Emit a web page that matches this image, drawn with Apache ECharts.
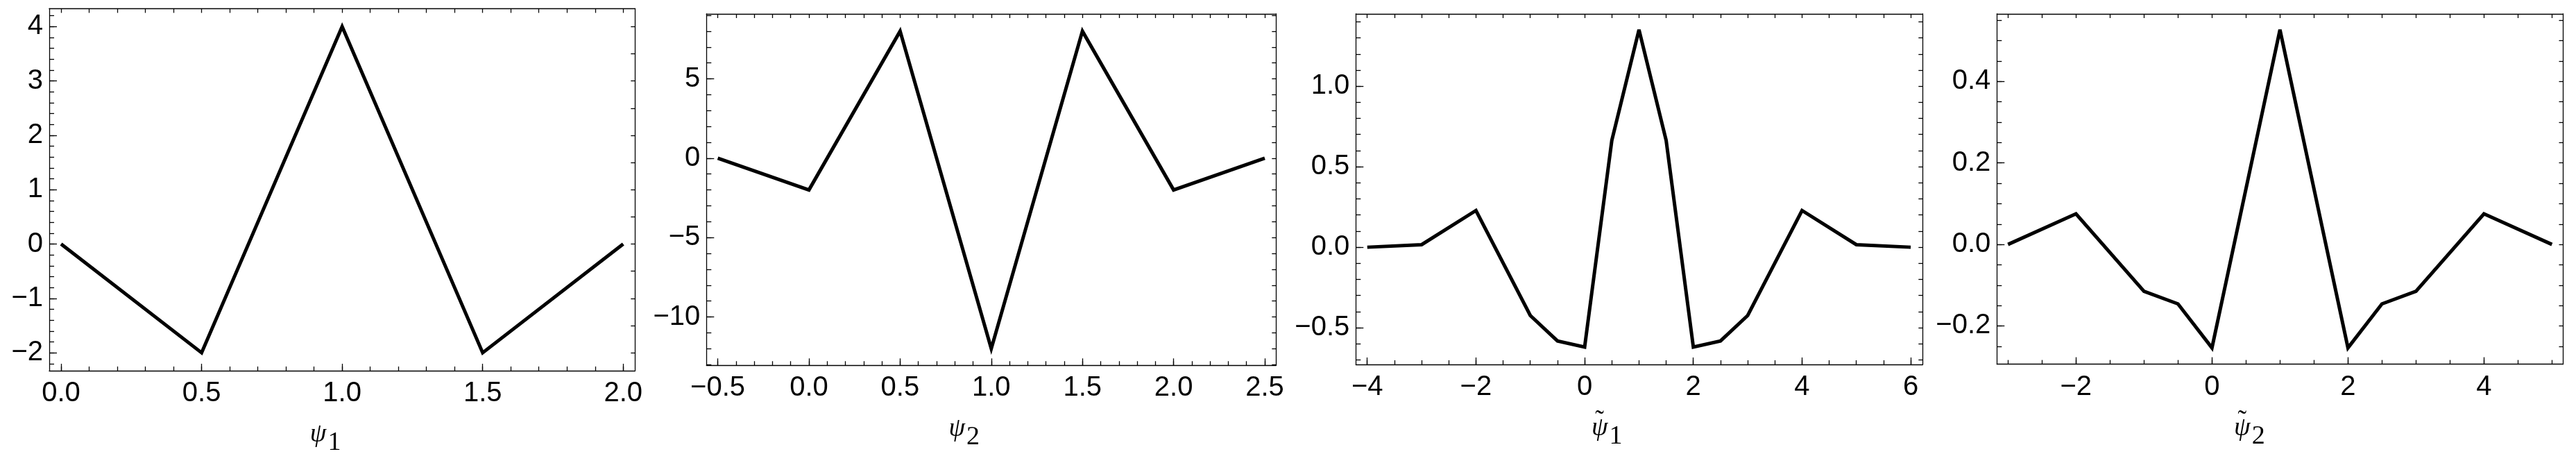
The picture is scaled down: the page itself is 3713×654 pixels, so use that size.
<!DOCTYPE html>
<html>
<head>
<meta charset="utf-8">
<script src="https://cdn.jsdelivr.net/npm/echarts@6/dist/echarts.min.js"></script>
<style>
html,body{margin:0;padding:0;background:#fff;}
#c{width:3713px;height:654px;}
</style>
</head>
<body>
<div id="c"></div>
<script>
// ---------- DATA ----------
// Panel 1: psi_1
const p1X = [0, 0.5, 1, 1.5, 2];
const p1Y = [0, -2, 4, -2, 0];
const p1XTicks = [0, 0.5, 1, 1.5, 2];
const p1YTicks = [-2, -1, 0, 1, 2, 3, 4];
// Panel 2: psi_2
const p2X = [-0.5, 0, 0.5, 1, 1.5, 2, 2.5];
const p2Y = [0, -2, 8, -12, 8, -2, 0];
const p2XTicks = [-0.5, 0, 0.5, 1, 1.5, 2, 2.5];
const p2YTicks = [-10, -5, 0, 5];
// Panel 3: psi~_1
const p3X = [-4, -3, -2, -1, -0.5, 0, 0.5, 1, 1.5, 2, 2.5, 3, 4, 5, 6];
const p3Y = [0, 0.016, 0.228, -0.424, -0.582, -0.62, 0.663, 1.35, 0.663, -0.62, -0.582, -0.424, 0.228, 0.016, 0];
const p3XTicks = [-4, -2, 0, 2, 4, 6];
const p3YTicks = [-0.5, 0, 0.5, 1.0];
// Panel 4: psi~_2
const p4X = [-3, -2, -1, -0.5, 0, 1, 2, 2.5, 3, 4, 5];
const p4Y = [0, 0.075, -0.115, -0.146, -0.254, 0.527, -0.254, -0.146, -0.115, 0.075, 0];
const p4XTicks = [-2, 0, 2, 4];
const p4YTicks = [-0.2, 0, 0.2, 0.4];
// axis titles: symbol, tilde accent, subscript
const titleSymbols = ['ψ', 'ψ', 'ψ', 'ψ'];
const titleAccents = ['', '', '\u02DC', '\u02DC'];
const titleSubs = ['1', '2', '1', '2'];

// ---------- LAYOUT / STYLE ----------
const panels = [
  {x:p1X, y:p1Y, xt:p1XTicks, yt:p1YTicks, grid:{left:71, top:12.5, width:844.3, height:521.5},
   xr:[-0.042, 2.042], yr:[-2.33, 4.33], xMinor:0.1, yMinor:0.2, topStep:0.1, rightStep:0.5, xDec:1, yDec:0, shift:48},
  {x:p2X, y:p2Y, xt:p2XTicks, yt:p2YTicks, grid:{left:1018.3, top:20, width:821, height:506.3},
   xr:[-0.562, 2.562], yr:[-13.05, 9.09], xMinor:0.1, yMinor:1, topStep:0.1, rightStep:1, xDec:1, yDec:0, shift:78},
  {x:p3X, y:p3Y, xt:p3XTicks, yt:p3YTicks, grid:{left:1954.3, top:20, width:817, height:505},
   xr:[-4.21, 6.22], yr:[-0.728, 1.449], xMinor:0.5, yMinor:0.1, topStep:0.5, rightStep:0.1, xDec:0, yDec:1, shift:94},
  {x:p4X, y:p4Y, xt:p4XTicks, yt:p4YTicks, grid:{left:2878.3, top:20, width:816.2, height:504.6},
   xr:[-3.163, 5.165], yr:[-0.294, 0.566], xMinor:0.5, yMinor:0.05, topStep:0.5, rightStep:0.05, xDec:0, yDec:1, shift:89}
];

function stepsIn(r, step) {
  const out = [];
  const start = Math.ceil(r[0] / step - 1e-9);
  const end = Math.floor(r[1] / step + 1e-9);
  for (let i = start; i <= end; i++) out.push(Math.round(i * step * 10000) / 10000);
  return out;
}
function fmt(dec) {
  return v => {
    const s = Math.abs(v).toFixed(dec);
    return (v < -1e-9 ? '\u2212' : '') + s;
  };
}

const LINE = {color:'#000', width:1.3};
const TICK = {color:'#000', width:1.3};
const labelFont = {fontSize:40, fontFamily:'Liberation Sans, Arial, sans-serif', color:'#000'};
const SERIF = 'Liberation Serif, Times New Roman, serif';

const grids = [], xAxes = [], yAxes = [], series = [];
panels.forEach((p, g) => {
  grids.push(Object.assign({outerBoundsMode:'none', containLabel:false}, p.grid));
  const xb = xAxes.length, yb = yAxes.length;
  const accent = titleAccents[g] ? '{t|\u2006' + titleAccents[g] + '}' : '';
  // bottom major with labels + axis title
  xAxes.push({
    gridIndex:g, type:'value', min:p.xr[0], max:p.xr[1], position:'bottom',
    axisLine:{show:true, onZero:false, lineStyle:LINE},
    axisTick:{show:true, inside:true, length:10, customValues:p.xt, lineStyle:TICK},
    axisLabel:Object.assign({show:true, customValues:p.xt, formatter:fmt(p.xDec), margin:13,
      showMinLabel:true, showMaxLabel:true, hideOverlap:false}, labelFont),
    splitLine:{show:false},
    name: accent + '{p|' + titleSymbols[g] + '}{s|' + titleSubs[g] + '}{w|}',
    nameLocation:'middle', nameGap:72,
    nameTextStyle:{rich:{
      t:{fontFamily:SERIF, fontSize:38, lineHeight:40, width:1, align:'left', padding:[0,0,19,0], color:'#000'},
      p:{fontFamily:SERIF, fontStyle:'italic', fontSize:38, lineHeight:40, color:'#000'},
      s:{fontFamily:SERIF, fontSize:38, lineHeight:40, color:'#000', padding:[24,0,0,2]},
      w:{width:p.shift}
    }}
  });
  // bottom minor ticks
  xAxes.push({
    gridIndex:g, type:'value', min:p.xr[0], max:p.xr[1], position:'bottom', offset:0,
    axisLine:{show:false, onZero:false},
    axisTick:{show:true, inside:true, length:6, customValues:stepsIn(p.xr, p.xMinor), lineStyle:TICK},
    axisLabel:{show:false}, splitLine:{show:false}
  });
  // top frame
  xAxes.push({
    gridIndex:g, type:'value', min:p.xr[0], max:p.xr[1], position:'top', offset:0,
    axisLine:{show:true, onZero:false, lineStyle:LINE},
    axisTick:{show:true, inside:true, length:6, customValues:stepsIn(p.xr, p.topStep), lineStyle:TICK},
    axisLabel:{show:false}, splitLine:{show:false}
  });
  // left major with labels
  yAxes.push({
    gridIndex:g, type:'value', min:p.yr[0], max:p.yr[1], position:'left',
    axisLine:{show:true, onZero:false, lineStyle:LINE},
    axisTick:{show:true, inside:true, length:11, customValues:p.yt, lineStyle:TICK},
    axisLabel:Object.assign({show:true, customValues:p.yt, formatter:fmt(p.yDec), margin:9,
      showMinLabel:true, showMaxLabel:true, hideOverlap:false}, labelFont),
    splitLine:{show:false}
  });
  // left minor ticks
  yAxes.push({
    gridIndex:g, type:'value', min:p.yr[0], max:p.yr[1], position:'left', offset:0,
    axisLine:{show:false, onZero:false},
    axisTick:{show:true, inside:true, length:7, customValues:stepsIn(p.yr, p.yMinor), lineStyle:TICK},
    axisLabel:{show:false}, splitLine:{show:false}
  });
  // right frame
  yAxes.push({
    gridIndex:g, type:'value', min:p.yr[0], max:p.yr[1], position:'right', offset:0,
    axisLine:{show:true, onZero:false, lineStyle:LINE},
    axisTick:{show:true, inside:true, length:6, customValues:stepsIn(p.yr, p.rightStep), lineStyle:TICK},
    axisLabel:{show:false}, splitLine:{show:false}
  });
  series.push({
    type:'line', xAxisIndex:xb, yAxisIndex:yb,
    data:p.x.map((x, i) => [x, p.y[i]]),
    symbol:'none', silent:true,
    lineStyle:{color:'#000', width:5, join:'miter', miterLimit:4}
  });
});

const chart = echarts.init(document.getElementById('c'), null, {renderer:'canvas', width:3713, height:654});
chart.setOption({
  animation:false,
  backgroundColor:'#fff',
  grid:grids, xAxis:xAxes, yAxis:yAxes, series:series
});
</script>
</body>
</html>
